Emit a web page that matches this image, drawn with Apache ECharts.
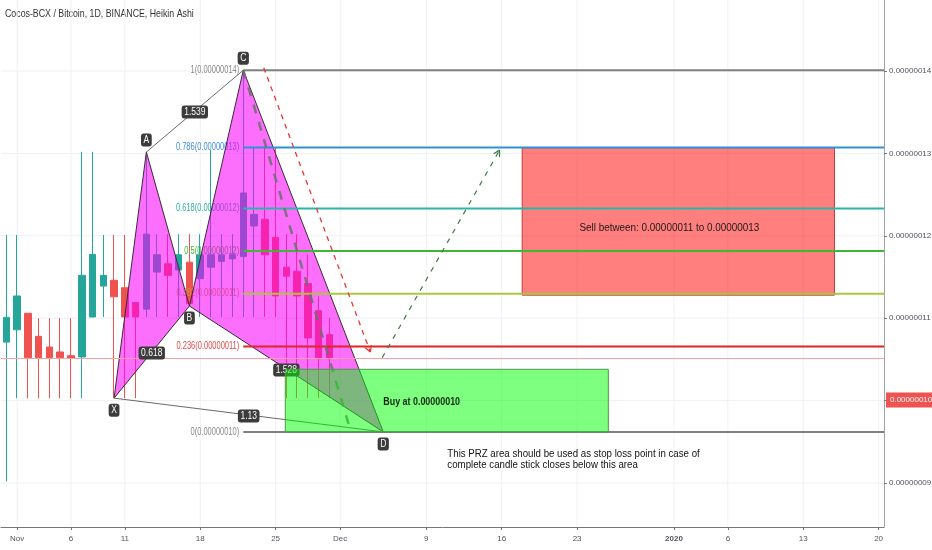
<!DOCTYPE html>
<html><head><meta charset="utf-8">
<script src="https://cdn.jsdelivr.net/npm/echarts@6/dist/echarts.min.js"></script>
<style>html,body{margin:0;padding:0;background:#fff}#c{width:932px;height:550px}</style>
</head><body><div id="c"></div>
<script>
const FONT = "'Liberation Sans',Arial,sans-serif";
const chartTitle = 'Cocos-BCX / Bitcoin, 1D, BINANCE, Heikin Ashi';

// Daily categories, 31 Oct 2019 .. 20 Jan 2020
const monthNames = ['Jan','Feb','Mar','Apr','May','Jun','Jul','Aug','Sep','Oct','Nov','Dec'];
const days = [];
for (let d = new Date(Date.UTC(2019, 9, 31)); d <= new Date(Date.UTC(2020, 0, 20)); d.setUTCDate(d.getUTCDate() + 1)) {
  days.push(monthNames[d.getUTCMonth()] + ' ' + d.getUTCDate());
}
const xTickDays   = ['Nov 1','Nov 6','Nov 11','Nov 18','Nov 25','Dec 1','Dec 9','Dec 16','Dec 23','Jan 1','Jan 6','Jan 13','Jan 20'];
const xTickLabels = ['Nov','6','11','18','25','Dec','9','16','23','2020','6','13','20'];

// prices in units of 1e-8 BTC
const priceTicks = [9, 10, 11, 12, 13, 14];
const yMin = 8.466, yMax = 14.862;

// Heikin Ashi candles, 31 Oct .. 30 Nov
const haOpen  = [10.71,10.86,11.06,10.78,10.65,10.59,10.545,10.53,11.015,11.39,11.46,11.37,11.19,11.11,11.56,11.66,11.585,11.68,11.48,11.62,11.69,11.72,11.75,12.12,12.20,11.98,11.62,11.57,11.42,11.09,10.80];
const haClose = [11.01,11.27,10.52,10.52,10.52,10.52,10.515,11.52,11.775,11.52,11.26,11.015,11.015,12.02,11.77,11.52,11.77,11.18,11.77,11.77,11.77,11.77,12.52,12.26,11.77,11.27,11.51,11.27,10.76,10.52,10.52];
const haLow   = [9.02,10.03,10.03,10.03,10.03,10.03,10.03,10.03,11.015,11.015,10.03,10.03,10.03,11.015,11.015,11.015,11.015,11.15,11.015,11.015,11.015,11.015,11.015,11.015,11.015,11.015,10.03,10.03,10.03,10.03,10.03];
const haHigh  = [12.01,12.01,11.06,11.0,11.0,11.0,11.0,13.02,13.02,12.01,12.01,12.01,11.19,13.02,12.02,12.02,12.02,12.02,12.02,13.04,12.02,12.02,14.01,13.07,13.07,13.07,12.02,12.02,11.77,11.27,11.0];

const priceLine = 10.52;      // thin price line
const lastPrice = 10.007;     // axis price tag

// XABCD harmonic pattern
const patternNames = ['X','A','B','C','D'];
const patternDates = ['Nov 10','Nov 13','Nov 17','Nov 22','Dec 5'];
const patternPrice = [10.03, 13.017, 11.148, 14.01, 9.62];
const patternLabelSide = [1, -1, 1, -1, 1];
const ratioSegments = [[0,2],[1,3],[2,4],[0,4]];
const ratioLabels = ['0.618','1.539','1.528','1.13'];

// Fibonacci retracement
const fibLevels = [0, 0.236, 0.382, 0.5, 0.618, 0.786, 1];
const fibLineColors  = ['#808080','#e02525','#a8c83c','#3cb832','#2bb5a8','#2f8fdd','#808080'];
const fibLabelColors = ['#8a8a8a','#e04848','#c9a030','#3cb832','#2fb3a0','#3d8fd6','#8a8a8a'];
const fibLow = 9.62, fibHigh = 14.01, fibStart = 'Nov 22';

// zones (x in day index from 31 Oct)
const buyZoneX = [25.9, 55.9], buyZonePrice = [9.62, 10.38];
const sellZoneX = [47.9, 76.9], sellZonePrice = [11.28, 13.07];
const buyText = 'Buy at 0.00000010', buyTextAt = [35, 9.98];
const sellText = 'Sell between: 0.00000011 to 0.00000013';
const noteText = 'This PRZ area should be used as stop loss point in case of\ncomplete candle stick closes below this area', noteAt = [40.95, 9.42];

// dashed arrows / lines
const redArrowX = [23.9, 33.8], redArrowPrice = [14.04, 10.59];
const greenArrowX = [34.9, 45.8], greenArrowPrice = [10.52, 13.04];
const grayDashX = [22, 32], grayDashPrice = [14.01, 9.62];

const N = days.length;
const idx = d => days.indexOf(d);
const pX = patternDates.map(idx);
const fmt = v => (v * 1e-8).toFixed(8);
const showTick = (i, v) => xTickDays.indexOf(v) >= 0;

function overlay(z, draw) {
  return {
    type: 'custom', xAxisIndex: 1, yAxisIndex: 0, z: z, silent: true, clip: false,
    data: [[0, 10]],
    renderItem: (params, api) => ({ type: 'group', children: draw(api) })
  };
}
function arrow(api, xs, ps, color, width, dash, head) {
  const a = api.coord([xs[0], ps[0]]), b = api.coord([xs[1], ps[1]]);
  const out = [{ type: 'line', shape: { x1: a[0], y1: a[1], x2: b[0], y2: b[1] }, style: { stroke: color, lineWidth: width, lineDash: dash } }];
  if (head) {
    const ang = Math.atan2(b[1] - a[1], b[0] - a[0]);
    [0.5, -0.5].forEach(s => {
      out.push({ type: 'line', shape: { x1: b[0], y1: b[1], x2: b[0] - 7 * Math.cos(ang + s), y2: b[1] - 7 * Math.sin(ang + s) }, style: { stroke: color, lineWidth: width } });
    });
  }
  return out;
}
function label(x, y, text, opts) {
  return { type: 'text', x: x, y: y, scaleX: opts.sx || 1, style: Object.assign({ text: text, verticalAlign: 'middle' }, opts.style) };
}

const series = [
  // grid lines
  overlay(0, api => {
    const out = [];
    xTickDays.forEach(d => {
      const a = api.coord([idx(d), yMin]), b = api.coord([idx(d), yMax]);
      out.push({ type: 'line', shape: { x1: a[0], y1: a[1], x2: b[0], y2: b[1] }, style: { stroke: '#eef0f4', lineWidth: 1 } });
    });
    priceTicks.forEach(p => {
      const a = api.coord([-0.5, p]), b = api.coord([N - 0.5, p]);
      out.push({ type: 'line', shape: { x1: a[0], y1: a[1], x2: b[0], y2: b[1] }, style: { stroke: '#eef0f4', lineWidth: 1 } });
    });
    return out;
  }),
  {
    type: 'candlestick', xAxisIndex: 0, yAxisIndex: 0, z: 2, barWidth: 7,
    data: haOpen.map((o, i) => [o, haClose[i], haLow[i], haHigh[i]]),
    itemStyle: { color: '#26a69a', color0: '#ef5350', borderColor: '#26a69a', borderColor0: '#ef5350', borderWidth: 1 },
    markLine: {
      symbol: 'none', silent: true, animation: false,
      data: [ { yAxis: priceLine, lineStyle: { color: '#f6a3a3', width: 1, type: 'solid' }, label: { show: false } } ]
    }
  },
  // fib labels (under pattern fill)
  overlay(2.5, api => fibLevels.map((l, k) => {
    const p = fibLow + l * (fibHigh - fibLow);
    const a = api.coord([idx(fibStart), p]);
    return label(a[0] - 4, a[1], l + '(' + fmt(p) + ')', { sx: 0.75, style: { fill: fibLabelColors[k], align: 'right', font: '10px ' + FONT } });
  })),
  // sell zone
  overlay(3, api => {
    const a = api.coord([sellZoneX[0], sellZonePrice[1]]), b = api.coord([sellZoneX[1], sellZonePrice[0]]);
    return [
      { type: 'rect', shape: { x: a[0], y: a[1], width: b[0] - a[0], height: b[1] - a[1] }, style: { fill: 'rgba(255,0,0,0.5)', stroke: '#c23a3a', lineWidth: 1 } },
      label((a[0] + b[0]) / 2 - 9, (a[1] + b[1]) / 2 + 7, sellText, { sx: 0.9, style: { fill: '#1a1a1a', align: 'center', font: '11px ' + FONT } })
    ];
  }),
  // pattern fills
  overlay(3, api => [[0, 1, 2], [2, 3, 4]].map(tri => ({
    type: 'polygon', shape: { points: tri.map(k => api.coord([pX[k], patternPrice[k]])) },
    style: { fill: 'rgba(250,0,250,0.57)', stroke: '#3a2a3a', lineWidth: 1 }
  }))),
  // fib lines
  overlay(4, api => fibLevels.map((l, k) => {
    const p = fibLow + l * (fibHigh - fibLow);
    const a = api.coord([idx(fibStart), p]), b = api.coord([N - 0.5, p]);
    return { type: 'line', shape: { x1: a[0], y1: a[1], x2: b[0], y2: b[1] }, style: { stroke: fibLineColors[k], lineWidth: 2 } };
  })),
  // AC and XD gray lines, gray dashed
  overlay(4, api => {
    const out = [[1, 3], [0, 4]].map(s => {
      const a = api.coord([pX[s[0]], patternPrice[s[0]]]), b = api.coord([pX[s[1]], patternPrice[s[1]]]);
      return { type: 'line', shape: { x1: a[0], y1: a[1], x2: b[0], y2: b[1] }, style: { stroke: '#6a6a6a', lineWidth: 1 } };
    });
    return out.concat(arrow(api, grayDashX, grayDashPrice, 'rgba(110,110,110,0.85)', 2.5, [9, 9], false));
  }),
  // ratio labels
  overlay(5, api => ratioSegments.map((s, k) => {
    const a = api.coord([pX[s[0]], patternPrice[s[0]]]), b = api.coord([pX[s[1]], patternPrice[s[1]]]);
    return label((a[0] + b[0]) / 2, (a[1] + b[1]) / 2 + 1, ratioLabels[k], { sx: 0.85, style: { fill: '#fff', backgroundColor: '#3c3c3c', padding: [2, 3, 1, 3], borderRadius: 3, align: 'center', font: '10px ' + FONT } });
  })),
  // buy zone
  overlay(6, api => {
    const a = api.coord([buyZoneX[0], buyZonePrice[1]]), b = api.coord([buyZoneX[1], buyZonePrice[0]]);
    const t = api.coord(buyTextAt);
    return [
      { type: 'rect', shape: { x: a[0], y: a[1], width: b[0] - a[0], height: b[1] - a[1] }, style: { fill: 'rgba(0,255,0,0.5)', stroke: '#4a9a4a', lineWidth: 1 } },
      label(t[0], t[1], buyText, { sx: 0.81, style: { fill: '#102a10', align: 'left', font: 'bold 11px ' + FONT } })
    ];
  }),
  // arrows
  overlay(7, api => arrow(api, redArrowX, redArrowPrice, '#e53935', 1.3, [5, 5], true)
    .concat(arrow(api, greenArrowX, greenArrowPrice, '#3f7a3f', 1.2, [5, 6], true))),
  // point letters + note + price tag
  overlay(8, api => {
    const out = patternNames.map((n, k) => {
      const a = api.coord([pX[k], patternPrice[k]]);
      return label(a[0], a[1] + patternLabelSide[k] * 12, n, { sx: 0.85, style: { fill: '#fff', backgroundColor: '#3c3c3c', padding: [2, 3, 1, 3], borderRadius: 3, align: 'center', font: '10px ' + FONT } });
    });
    const t = api.coord(noteAt);
    out.push({ type: 'text', x: t[0], y: t[1], scaleX: 0.88, style: { text: noteText, fill: '#111', align: 'left', verticalAlign: 'top', lineHeight: 11, font: '11px ' + FONT } });
    const pt = api.coord([N - 0.5, lastPrice]);
    out.push(label(pt[0] + 2, pt[1], fmt(lastPrice), { style: { fill: '#fff', backgroundColor: '#ef5350', padding: [4, 4, 3, 4], align: 'left', font: '8px ' + FONT } }));
    return out;
  })
];

const option = {
  animation: false,
  backgroundColor: '#fff',
  graphic: [{ type: 'text', x: 5, y: 14, scaleX: 0.8, silent: true, style: { text: chartTitle, fill: '#333', verticalAlign: 'middle', font: '11px ' + FONT } }],
  grid: { left: 1, right: 48, top: 0, bottom: 23, containLabel: false, outerBoundsMode: 'none' },
  xAxis: [
    {
      type: 'category', data: days, boundaryGap: true, position: 'bottom',
      axisLine: { onZero: false, lineStyle: { color: '#777' } },
      axisTick: { show: true, interval: showTick, alignWithLabel: true, length: 3, lineStyle: { color: '#777' } },
      axisLabel: {
        interval: showTick, color: '#50535e', fontSize: 8, fontFamily: FONT, margin: 8,
        formatter: v => { const k = xTickDays.indexOf(v); if (k < 0) return ''; return xTickLabels[k] === '2020' ? '{b|2020}' : xTickLabels[k]; },
        rich: { b: { fontWeight: 'bold', fontSize: 8, color: '#50535e', fontFamily: FONT } }
      },
      splitLine: { show: false }
    },
    { type: 'value', show: false, min: -0.5, max: days.length - 0.5 }
  ],
  yAxis: {
    type: 'value', position: 'right', min: yMin, max: yMax, scale: true,
    axisLine: { show: true, onZero: false, lineStyle: { color: '#a0a3a8' } },
    axisTick: { show: true, customValues: priceTicks, length: 3, lineStyle: { color: '#777' } },
    axisLabel: { customValues: priceTicks, formatter: v => fmt(v), color: '#50535e', fontSize: 8, fontFamily: FONT, margin: 5 },
    splitLine: { show: false }
  },
  series: series
};
const chart = echarts.init(document.getElementById('c'));
chart.setOption(option);
</script>
</body></html>
